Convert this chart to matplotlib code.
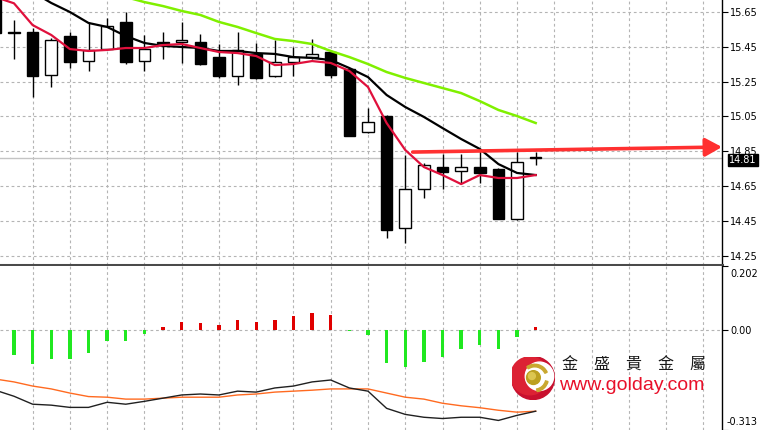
import numpy as np
import matplotlib
matplotlib.use("Agg")
import matplotlib.pyplot as plt
from matplotlib.patches import Rectangle, Circle, Wedge
import matplotlib.transforms as mtransforms

# =============================================================================
# data (bar index -1 is the cut one at the left edge)
# =============================================================================
bars = np.arange(-1, 29)

opens = [15.80, 15.53, 15.535, 15.29, 15.51, 15.37, 15.44, 15.59, 15.37, 15.47,
         15.478, 15.48, 15.39, 15.28, 15.41, 15.28, 15.36, 15.39, 15.42, 15.32,
         14.96, 15.05, 14.41, 14.63, 14.76, 14.735, 14.76, 14.75, 14.46, 14.815]
highs = [15.82, 15.604, 15.56, 15.50, 15.535, 15.59, 15.615, 15.65, 15.52, 15.535,
         15.593, 15.524, 15.466, 15.535, 15.47, 15.49, 15.45, 15.495, 15.43, 15.32,
         15.10, 15.06, 14.83, 14.78, 14.835, 14.835, 14.855, 14.755, 14.845, 14.845]
lows = [15.52, 15.38, 15.16, 15.22, 15.33, 15.31, 15.44, 15.35, 15.31, 15.38,
        15.357, 15.345, 15.27, 15.23, 15.265, 15.275, 15.28, 15.38, 15.27, 14.94,
        14.955, 14.35, 14.32, 14.58, 14.63, 14.665, 14.665, 14.46, 14.455, 14.77]
closes = [15.53, 15.535, 15.28, 15.49, 15.36, 15.43, 15.57, 15.36, 15.44, 15.475,
          15.49, 15.35, 15.28, 15.43, 15.27, 15.36, 15.39, 15.41, 15.29, 14.94,
          15.02, 14.40, 14.63, 14.77, 14.73, 14.76, 14.725, 14.46, 14.79, 14.81]

ma_red = [15.736, 15.70, 15.575, 15.518, 15.437, 15.426, 15.432, 15.443, 15.443, 15.46,
          15.466, 15.443, 15.42, 15.414, 15.397, 15.345, 15.351, 15.368, 15.357, 15.311,
          15.219, 15.012, 14.857, 14.759, 14.713, 14.661, 14.713, 14.696, 14.696, 14.713]
ma_black = [15.88, 15.822, 15.765, 15.702, 15.65, 15.587, 15.564, 15.512, 15.472, 15.455,
            15.449, 15.443, 15.426, 15.426, 15.414, 15.409, 15.391, 15.386, 15.374, 15.328,
            15.276, 15.173, 15.104, 15.047, 14.983, 14.92, 14.863, 14.776, 14.725, 14.713]
ma_green = [np.nan] * 6 + [15.77, 15.736, 15.707, 15.684, 15.656, 15.633, 15.593, 15.564,
                           15.529, 15.495, 15.483, 15.466, 15.426, 15.391, 15.351, 15.305,
                           15.271, 15.242, 15.213, 15.184, 15.138, 15.087, 15.052, 15.012]

hist = [np.nan, -0.076, -0.105, -0.089, -0.089, -0.070, -0.035, -0.032, -0.013, 0.010,
        0.025, 0.022, 0.016, 0.032, 0.025, 0.032, 0.045, 0.054, 0.048, -0.002,
        -0.016, -0.102, -0.115, -0.098, -0.083, -0.060, -0.045, -0.060, -0.020, 0.010]
macd = [-0.188, -0.207, -0.232, -0.235, -0.242, -0.242, -0.226, -0.232, -0.223, -0.213,
        -0.203, -0.200, -0.203, -0.191, -0.194, -0.181, -0.175, -0.162, -0.156, -0.181,
        -0.191, -0.245, -0.264, -0.273, -0.277, -0.273, -0.273, -0.283, -0.267, -0.254]
signal = [-0.153, -0.162, -0.175, -0.184, -0.197, -0.208, -0.210, -0.216, -0.216, -0.213,
          -0.210, -0.210, -0.210, -0.203, -0.200, -0.194, -0.191, -0.188, -0.184, -0.184,
          -0.184, -0.197, -0.210, -0.216, -0.229, -0.237, -0.243, -0.251, -0.257, -0.254]

price_ticks = [14.25, 14.45, 14.65, 14.85, 15.05, 15.25, 15.45, 15.65]
macd_top, macd_bottom = 0.202, -0.313
last_price = 14.81
arrow_x = [21.4, 38.0]
arrow_price = [14.845, 14.874]

# =============================================================================
# figure and panels
# =============================================================================
W, H = 764, 430
fig = plt.figure(figsize=(W / 100, H / 100), dpi=100)
fig.patch.set_facecolor("white")

ax1 = fig.add_axes([0, (H - 265) / H, 722 / W, 265 / H])
ax2 = fig.add_axes([0, 0, 722 / W, 164 / H])

grid_col = "#b4b4b4"
dash = (0, (2.5, 2.5))
for ax in (ax1, ax2):
    ax.set_xlim(-0.75, 38.0)
    ax.set_facecolor("white")
    ax.spines["left"].set_visible(False)
    ax.spines["right"].set_color("black")
    ax.spines["right"].set_linewidth(1.0)
    ax.yaxis.tick_right()
    ax.tick_params(axis="y", direction="out", length=4, width=0.8, pad=2,
                   labelsize=7, colors="black")
    ax.tick_params(axis="x", bottom=False, labelbottom=False)
    for xg in range(1, 38, 2):
        ax.axvline(xg, color=grid_col, lw=0.8, ls=dash, zorder=0)

ax1.spines["top"].set_visible(False)
ax1.spines["bottom"].set_color("#4a4a4a")
ax1.spines["bottom"].set_linewidth(2.2)
ax2.spines["bottom"].set_visible(False)
ax2.spines["top"].set_visible(False)

# =============================================================================
# price panel
# =============================================================================
ax1.set_ylim(15.65 - 253 / 174, 15.65 + 12 / 174)
ax1.set_yticks(price_ticks)
ax1.set_yticklabels([f"{p:.2f}" for p in price_ticks])
for p in price_ticks:
    ax1.axhline(p, color=grid_col, lw=0.8, ls=dash, zorder=0)

ax1.axhline(last_price, color="#c4c4c4", lw=1.0, zorder=1)

body_w = 0.62
for i, o, h, l, c in zip(bars, opens, highs, lows, closes):
    ax1.plot([i, i], [l, h], color="black", lw=1.0, zorder=3, solid_capstyle="butt")
    bottom = min(o, c)
    height = max(abs(c - o), 0.0005)
    face = "white" if c >= o else "black"
    ax1.add_patch(Rectangle((i - body_w / 2, bottom), body_w, height,
                            facecolor=face, edgecolor="black", lw=1.0, zorder=4))

ax1.plot(bars, ma_green, color="#80f000", lw=1.8, zorder=5)
ax1.plot(bars, ma_black, color="black", lw=1.6, zorder=5)
ax1.plot(bars, ma_red, color="#e0103c", lw=1.6, zorder=6)

ax1.annotate("", xy=(arrow_x[1], arrow_price[1]), xytext=(arrow_x[0], arrow_price[0]),
             arrowprops=dict(arrowstyle="-|>,head_length=1.0,head_width=0.55",
                             color="#ff3030", lw=2.6, shrinkA=0, shrinkB=0),
             annotation_clip=False, zorder=7)

trans = mtransforms.blended_transform_factory(ax1.transAxes, ax1.transData)
ax1.text(1 + 7 / 722, last_price - 0.012, "14.81", transform=trans, fontsize=7,
         color="white", va="center", ha="left", zorder=8,
         bbox=dict(boxstyle="square,pad=0.12", facecolor="black", edgecolor="black"))

# =============================================================================
# MACD panel
# =============================================================================
ax2.set_ylim(macd_bottom, macd_top)
ax2.set_yticks([macd_top, 0.0, macd_bottom])
ax2.set_yticklabels(["", "0.00", ""])
ax2.axhline(0, color=grid_col, lw=0.8, ls=dash, zorder=0)

trans2 = mtransforms.blended_transform_factory(ax2.transAxes, ax2.transAxes)
ax2.text(1 + 8 / 722, 1 - 8 / 164, f"{macd_top:.3f}", transform=trans2,
         fontsize=7, va="center", ha="left")
ax2.text(1 + 5 / 722, 8 / 164, f"{macd_bottom:.3f}", transform=trans2,
         fontsize=7, va="center", ha="left")

hist_arr = np.array(hist)
cols = ["#e00000" if v > 0 else "#20e820" for v in np.nan_to_num(hist_arr)]
ax2.bar(bars, hist_arr, width=0.18, color=cols, zorder=3)
ax2.plot(bars, signal, color="#ff6a20", lw=1.0, zorder=4)
ax2.plot(bars, macd, color="#202020", lw=1.0, zorder=5)

# =============================================================================
# logo
# =============================================================================
lax = fig.add_axes([511.5 / W, (H - 399.5) / H, 43 / W, 43 / H])
lax.set_xlim(-1, 1)
lax.set_ylim(-1, 1)
lax.axis("off")
lax.add_patch(Circle((0, 0), 1.0, color="#c8102e"))
lax.add_patch(Circle((-0.15, 0.1), 0.88, color="#dc2234"))
lax.add_patch(Circle((0.3, 0.08), 0.66, color="white"))
lax.add_patch(Wedge((0.08, 0.0), 0.64, 25, 125, width=0.12, color="#c9a830"))
lax.add_patch(Wedge((0.08, 0.0), 0.64, -80, -15, width=0.12, color="#c9a830"))
lax.add_patch(Circle((0.02, 0.02), 0.32, color="#bca020"))
lax.add_patch(Circle((-0.05, 0.09), 0.16, color="#dcc650"))

fig.text(562 / W, 1 - 365 / H, "金　盛　貴　金　屬", fontsize=11.5, color="#1a1a1a",
         family=["Noto Sans CJK TC", "DejaVu Sans"], va="center", ha="left")
fig.text(559 / W, 1 - 386 / H, "www.golday.com", fontsize=14, color="#e8102a",
         family=["Liberation Sans", "DejaVu Sans"], va="center", ha="left")

fig.savefig("out.png", dpi=100, facecolor="white")
